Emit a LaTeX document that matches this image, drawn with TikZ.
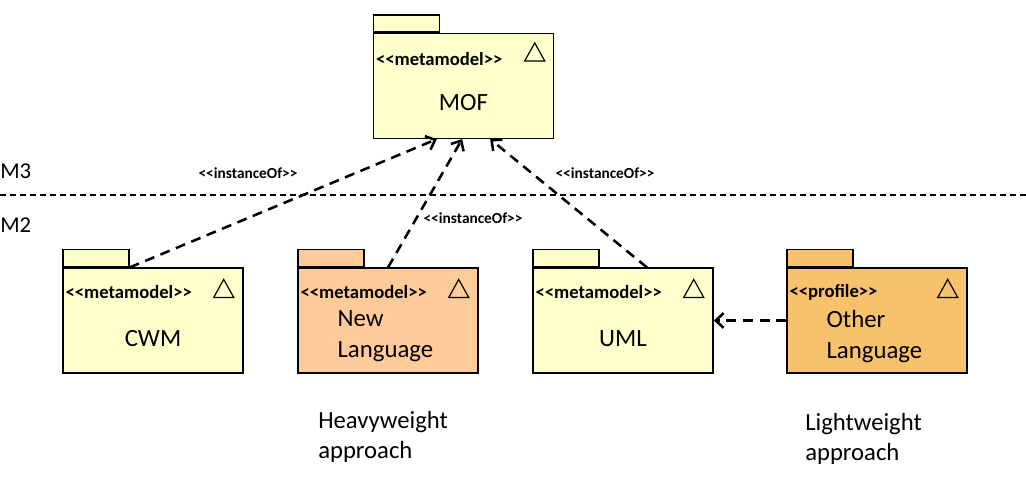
\documentclass[tikz,border=0pt]{standalone}
\usepackage{fontspec}
\setmainfont{Carlito}
\usepackage{xcolor}
\usetikzlibrary{arrows.meta,positioning,calc}

\definecolor{metayellow}{HTML}{FFFFCC}
\definecolor{newpeach}{HTML}{FFCC99}
\definecolor{profileorange}{HTML}{F8C16C}

\begin{document}
\begin{tikzpicture}[x=0.75pt,y=-0.75pt,
  pkgbody/.style={draw, line width=1.1pt, minimum width=135pt, minimum height=78.5pt, inner sep=0pt},
  pkgtab/.style={draw, line width=1.1pt, minimum width=49.5pt, minimum height=13pt, inner sep=0pt, anchor=south west},
  stereo/.style={font=\bfseries\fontsize{14}{16}\selectfont, anchor=west, inner sep=0pt},
  pkgname/.style={font=\fontsize{18.6}{23.25}\selectfont, inner sep=0pt, align=left},
  inst/.style={font=\bfseries\fontsize{11.5}{13}\selectfont, inner sep=0pt},
  note/.style={font=\fontsize{18.5}{22.5}\selectfont, inner sep=0pt, align=left, anchor=west},
  dep/.style={dash pattern=on 7.5pt off 5pt, line width=1.9pt, -{Straight Barb[length=6pt,width=11pt]}},
  pkgtri/.pic={\draw[line width=0.9pt] (-10,9) -- (0,-9) -- (10,9) -- cycle;}
]
\useasboundingbox (0,0) rectangle (1026,476);

% Level separator
\draw[dash pattern=on 4.5pt off 3pt, line width=0.8pt] (0,195) -- (1026,195);
\node[anchor=west, inner sep=0pt, font=\fontsize{17}{20}\selectfont] (mthree) at (0,171) {M3};
\node[anchor=west, inner sep=0pt, font=\fontsize{17}{20}\selectfont] (mtwo) at (0,225) {M2};

% MOF
\node[pkgbody, fill=metayellow] (mof) at (463.5,86) {};
\node[pkgtab, fill=metayellow] (moftab) at (mof.north west) {};
\node[stereo] (mofst) at ($(mof.north west)+(3,26)$) {<{}<metamodel>{}>};
\pic at ($(mof.north east)+(-19.5,19)$) {pkgtri};
\node[pkgname] (mofname) at ($(mof)+(0,17)$) {MOF};

% CWM
\node[pkgbody, fill=metayellow] (cwm) at (153,320.5) {};
\node[pkgtab, fill=metayellow] (cwmtab) at (cwm.north west) {};
\node[stereo] (cwmst) at ($(cwm.north west)+(3,25)$) {<{}<metamodel>{}>};
\pic at ($(cwm.north east)+(-20,21)$) {pkgtri};
\node[pkgname] (cwmname) at ($(cwm)+(0,18.5)$) {CWM};

% New Language
\node[pkgbody, fill=newpeach] (newlang) at (388,320.5) {};
\node[pkgtab, fill=newpeach] (newlangtab) at (newlang.north west) {};
\node[stereo] (newlangst) at ($(newlang.north west)+(3,25)$) {<{}<metamodel>{}>};
\pic at ($(newlang.north east)+(-20,21)$) {pkgtri};
\node[pkgname, anchor=west] (newlangname) at ($(newlang.west)+(40,16)$) {New\\Language};

% UML
\node[pkgbody, fill=metayellow] (uml) at (623,320.5) {};
\node[pkgtab, fill=metayellow] (umltab) at (uml.north west) {};
\node[stereo] (umlst) at ($(uml.north west)+(3,25)$) {<{}<metamodel>{}>};
\pic at ($(uml.north east)+(-20,21)$) {pkgtri};
\node[pkgname] (umlname) at ($(uml)+(0,18.5)$) {UML};

% Other Language
\node[pkgbody, fill=profileorange] (other) at (877,320.5) {};
\node[pkgtab, fill=profileorange] (othertab) at (other.north west) {};
\node[stereo] (otherst) at ($(other.north west)+(3,25)$) {<{}<profile>{}>};
\pic at ($(other.north east)+(-20,21)$) {pkgtri};
\node[pkgname, anchor=west] (othername) at ($(other.west)+(40,16)$) {Other\\Language};

% instanceOf dependencies
\draw[dep] (cwmtab.south east) -- ([xshift=-20pt]mof.south);
\draw[dep] (newlang.north) -- ([xshift=-1pt]mof.south);
\draw[dep] ([xshift=18pt]uml.north) -- ([xshift=20pt]mof.south);
\draw[dep] (other.west) -- (uml.east);

\node[inst] (instcwm) at (248,173) {<{}<instanceOf>{}>};
\node[inst] (instuml) at (605,173) {<{}<instanceOf>{}>};
\node[inst] (instnew) at (473,218) {<{}<instanceOf>{}>};

% Approaches
\node[note] (heavy) at (318,437) {Heavyweight\\approach};
\node[note] (light) at (805,439) {Lightweight\\approach};

\end{tikzpicture}
\end{document}
